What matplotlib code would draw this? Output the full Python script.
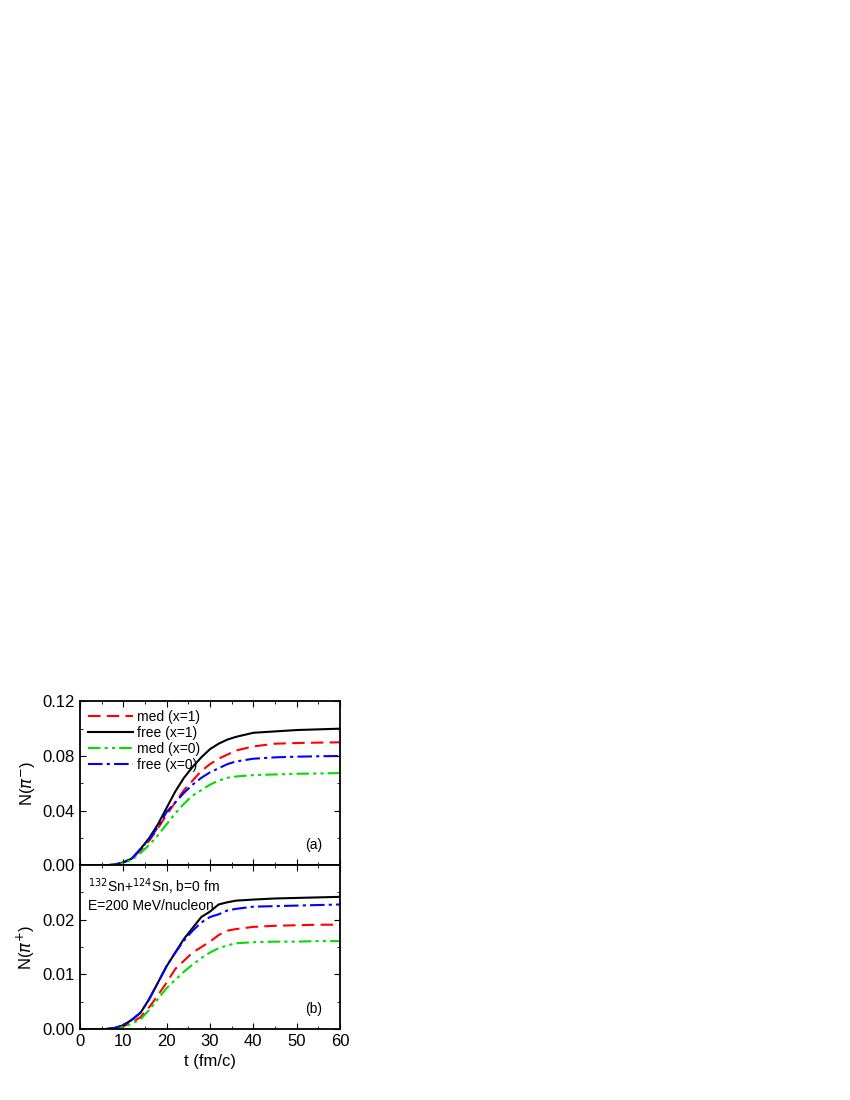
import matplotlib
matplotlib.use("Agg")
import matplotlib.pyplot as plt
from matplotlib.ticker import MultipleLocator

plt.rcParams["font.family"] = "Liberation Sans"

t = [0, 6, 8, 10, 12, 14, 16, 18, 20, 22, 24, 26, 28, 30, 32, 34, 36, 40, 45, 50, 55, 60]

# panel (a): N(pi-)
a_med1 = [0, 0, 0.0005, 0.002, 0.005, 0.011, 0.018, 0.027, 0.037, 0.046, 0.055, 0.062, 0.069, 0.074, 0.078, 0.081, 0.084, 0.087, 0.089, 0.0895, 0.0898, 0.090]
a_free1 = [0, 0, 0.0005, 0.002, 0.005, 0.012, 0.020, 0.030, 0.042, 0.054, 0.064, 0.072, 0.079, 0.085, 0.089, 0.092, 0.094, 0.097, 0.098, 0.099, 0.0995, 0.100]
a_med0 = [0, 0, 0.0004, 0.0015, 0.004, 0.009, 0.015, 0.022, 0.030, 0.038, 0.045, 0.051, 0.055, 0.059, 0.062, 0.064, 0.065, 0.066, 0.0665, 0.067, 0.0672, 0.0675]
a_free0 = [0, 0, 0.0005, 0.002, 0.005, 0.012, 0.019, 0.028, 0.039, 0.046, 0.053, 0.059, 0.064, 0.068, 0.071, 0.074, 0.076, 0.078, 0.079, 0.0795, 0.0798, 0.080]

# panel (b): N(pi+)
b_med1 = [0, 0, 0.0001, 0.0005, 0.0012, 0.0022, 0.004, 0.0062, 0.0085, 0.011, 0.0125, 0.014, 0.015, 0.016, 0.0172, 0.018, 0.0183, 0.0187, 0.0189, 0.019, 0.0191, 0.0191]
b_free1 = [0, 0, 0.0002, 0.0007, 0.0017, 0.003, 0.0055, 0.0085, 0.0115, 0.014, 0.0165, 0.0185, 0.0205, 0.0215, 0.0228, 0.0232, 0.0235, 0.0237, 0.0239, 0.0240, 0.0241, 0.0242]
b_med0 = [0, 0, 0.0001, 0.0004, 0.001, 0.0018, 0.0035, 0.0055, 0.0075, 0.009, 0.0105, 0.0118, 0.013, 0.014, 0.0148, 0.0153, 0.0157, 0.0159, 0.016, 0.016, 0.0161, 0.0161]
b_free0 = [0, 0, 0.0002, 0.0007, 0.0017, 0.003, 0.0055, 0.0085, 0.0115, 0.014, 0.0162, 0.018, 0.0195, 0.0205, 0.021, 0.0217, 0.022, 0.0224, 0.0225, 0.0226, 0.0227, 0.0228]

fig = plt.figure(figsize=(8.5, 11), dpi=100)
ax1 = fig.add_axes([0.094, 0.2134, 0.306, 0.149])
ax2 = fig.add_axes([0.094, 0.0645, 0.306, 0.149])

styles = [
    ("med (x=1)", "red", (0, (6, 3))),
    ("free (x=1)", "black", "-"),
    ("med (x=0)", "#00dd00", (0, (6, 2, 1.5, 2, 1.5, 2))),
    ("free (x=0)", "blue", (0, (7, 2, 1.5, 2))),
]
for ax, series in ((ax1, [a_med1, a_free1, a_med0, a_free0]),
                   (ax2, [b_med1, b_free1, b_med0, b_free0])):
    for (lab, col, ls), y in zip(styles, series):
        ax.plot(t, y, color=col, ls=ls, lw=1.5, label=lab)
    ax.set_xlim(0, 60)
    ax.xaxis.set_major_locator(MultipleLocator(10))
    ax.xaxis.set_minor_locator(MultipleLocator(5))
    ax.tick_params(which="both", direction="in", top=True, right=True, labelsize=12)
    ax.tick_params(which="major", length=4)
    ax.tick_params(which="minor", length=2)
    for s in ax.spines.values():
        s.set_linewidth(1.3)

ax1.set_ylim(0, 0.12)
ax1.yaxis.set_major_locator(MultipleLocator(0.04))
ax1.yaxis.set_minor_locator(MultipleLocator(0.02))
ax1.yaxis.set_major_formatter(matplotlib.ticker.FormatStrFormatter("%.2f"))
ax1.tick_params(labelbottom=False)
ax1.set_ylabel(r"N($\pi^{-}$)", fontsize=12)
ax1.text(0.93, 0.1, "(a)", transform=ax1.transAxes, ha="right", fontsize=10)
ax1.legend(loc="upper left", frameon=False, fontsize=10, handlelength=3.2,
           borderaxespad=0.2, labelspacing=0.15, handletextpad=0.3)

ax2.set_ylim(0, 0.03)
ax2.yaxis.set_major_locator(MultipleLocator(0.01))
ax2.yaxis.set_minor_locator(MultipleLocator(0.005))
ax2.yaxis.set_major_formatter(matplotlib.ticker.FormatStrFormatter("%.2f"))
ax2.set_yticks([0, 0.01, 0.02])
ax2.set_ylabel(r"N($\pi^{+}$)", fontsize=12)
ax2.set_xlabel("t (fm/c)", fontsize=12)
ax2.text(0.93, 0.1, "(b)", transform=ax2.transAxes, ha="right", fontsize=10)
ax2.text(0.03, 0.93, r"$^{132}$Sn+$^{124}$Sn, b=0 fm" + "\nE=200 MeV/nucleon",
         transform=ax2.transAxes, ha="left", va="top", fontsize=10, linespacing=1.2)

fig.savefig("out.png", dpi=100)
